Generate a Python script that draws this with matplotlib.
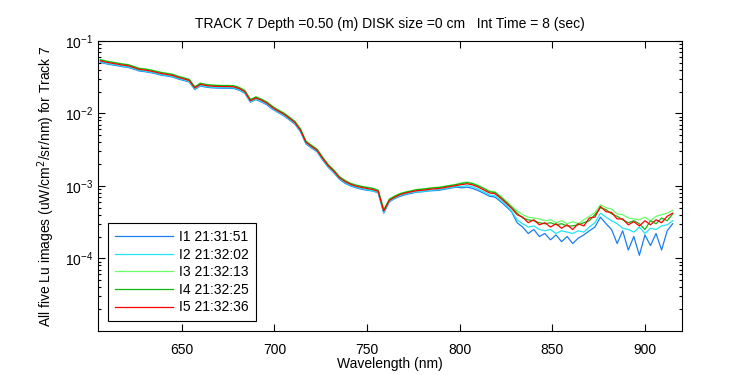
import numpy as np
import matplotlib
matplotlib.use("Agg")
import matplotlib.pyplot as plt
from matplotlib.ticker import LogLocator, NullFormatter

# Wavelength grid (nm), 3 nm sampling
wavelength = [606, 609, 612, 615, 618, 621, 624, 627, 630, 633,
              636, 639, 642, 645, 648, 651, 654, 657, 660, 663,
              666, 669, 672, 675, 678, 681, 684, 687, 690, 693,
              696, 699, 702, 705, 708, 711, 714, 717, 720, 723,
              726, 729, 732, 735, 738, 741, 744, 747, 750, 753,
              756, 759, 762, 765, 768, 771, 774, 777, 780, 783,
              786, 789, 792, 795, 798, 801, 804, 807, 810, 813,
              816, 819, 822, 825, 828, 831, 834, 837, 840, 843,
              846, 849, 852, 855, 858, 861, 864, 867, 870, 873,
              876, 879, 882, 885, 888, 891, 894, 897, 900, 903,
              906, 909, 912, 915]

# Lu values in units of 1e-3 uW/cm^2/sr/nm
lu_i1 = [50.7, 48.5, 47.0, 45.6, 44.2, 43.2, 40.9, 38.5, 37.7, 36.6,
         35.2, 33.7, 32.8, 31.8, 29.9, 28.5, 27.1, 21.4, 23.9, 23.1,
         22.6, 22.4, 22.3, 22.3, 22.1, 20.9, 19.0, 14.3, 15.5, 14.4,
         13.1, 11.4, 10.3, 9.3, 8.17, 7.13, 5.61, 3.80, 3.33, 2.95,
         2.28, 1.81, 1.52, 1.24, 1.09, 1.00, 0.94, 0.90, 0.87, 0.85,
         0.80, 0.42, 0.60, 0.67, 0.72, 0.76, 0.79, 0.82, 0.83, 0.85,
         0.86, 0.87, 0.90, 0.93, 0.96, 0.94, 0.96, 0.92, 0.86, 0.79,
         0.72, 0.70, 0.61, 0.52, 0.44, 0.31, 0.27, 0.22, 0.25, 0.20,
         0.22, 0.18, 0.21, 0.17, 0.20, 0.16, 0.19, 0.21, 0.24, 0.27,
         0.37, 0.30, 0.25, 0.16, 0.24, 0.13, 0.20, 0.11, 0.21, 0.15,
         0.22, 0.13, 0.24, 0.30]

lu_i2 = [51.8, 49.5, 48.0, 46.6, 45.1, 44.1, 41.7, 39.3, 38.5, 37.3,
         35.9, 34.4, 33.5, 32.5, 30.6, 29.1, 27.6, 21.8, 24.4, 23.6,
         23.1, 22.9, 22.8, 22.8, 22.6, 21.3, 19.4, 14.5, 15.8, 14.7,
         13.4, 11.6, 10.5, 9.5, 8.34, 7.28, 5.72, 3.88, 3.40, 3.01,
         2.33, 1.84, 1.55, 1.26, 1.12, 1.02, 0.96, 0.92, 0.89, 0.86,
         0.81, 0.43, 0.61, 0.68, 0.74, 0.78, 0.81, 0.83, 0.84, 0.86,
         0.88, 0.89, 0.92, 0.95, 0.98, 0.98, 1.01, 0.97, 0.90, 0.83,
         0.75, 0.73, 0.64, 0.55, 0.45, 0.34, 0.30, 0.27, 0.28, 0.25,
         0.24, 0.25, 0.22, 0.24, 0.23, 0.22, 0.24, 0.23, 0.27, 0.31,
         0.42, 0.37, 0.33, 0.30, 0.26, 0.25, 0.23, 0.27, 0.22, 0.26,
         0.25, 0.28, 0.29, 0.33]

lu_i3 = [55.5, 53.0, 51.5, 49.9, 48.4, 47.3, 44.7, 42.1, 41.3, 40.0,
         38.5, 36.9, 35.9, 34.8, 32.8, 31.2, 29.6, 23.4, 26.2, 25.3,
         24.8, 24.5, 24.4, 24.4, 24.2, 22.9, 20.8, 15.6, 17.0, 15.8,
         14.4, 12.5, 11.2, 10.2, 8.94, 7.80, 6.14, 4.16, 3.64, 3.22,
         2.50, 1.98, 1.66, 1.35, 1.20, 1.09, 1.03, 0.99, 0.96, 0.93,
         0.87, 0.47, 0.66, 0.73, 0.79, 0.83, 0.86, 0.89, 0.90, 0.93,
         0.95, 0.96, 0.99, 1.02, 1.05, 1.10, 1.13, 1.09, 1.02, 0.93,
         0.85, 0.83, 0.72, 0.62, 0.52, 0.45, 0.40, 0.37, 0.36, 0.35,
         0.33, 0.34, 0.31, 0.33, 0.30, 0.32, 0.30, 0.34, 0.38, 0.43,
         0.55, 0.50, 0.48, 0.41, 0.40, 0.36, 0.35, 0.34, 0.37, 0.33,
         0.38, 0.40, 0.42, 0.46]

lu_i4 = [55.0, 52.5, 51.0, 49.4, 47.9, 46.9, 44.3, 41.7, 40.9, 39.7,
         38.1, 36.6, 35.5, 34.5, 32.4, 30.9, 29.4, 23.2, 26.0, 25.0,
         24.5, 24.3, 24.2, 24.2, 24.0, 22.7, 20.6, 15.5, 16.8, 15.7,
         14.2, 12.4, 11.1, 10.1, 8.86, 7.73, 6.08, 4.12, 3.61, 3.19,
         2.47, 1.96, 1.65, 1.34, 1.18, 1.08, 1.02, 0.98, 0.95, 0.92,
         0.87, 0.46, 0.65, 0.72, 0.78, 0.82, 0.85, 0.89, 0.90, 0.92,
         0.94, 0.95, 0.98, 1.01, 1.04, 1.08, 1.11, 1.07, 1.00, 0.92,
         0.83, 0.81, 0.71, 0.60, 0.51, 0.42, 0.36, 0.34, 0.33, 0.31,
         0.30, 0.31, 0.29, 0.30, 0.28, 0.28, 0.29, 0.31, 0.33, 0.40,
         0.50, 0.47, 0.41, 0.38, 0.34, 0.31, 0.33, 0.30, 0.25, 0.33,
         0.30, 0.36, 0.33, 0.41]

lu_i5 = [53.4, 51.0, 49.5, 48.0, 46.5, 45.5, 43.0, 40.5, 39.7, 38.5,
         37.0, 35.5, 34.5, 33.5, 31.5, 30.0, 28.5, 22.5, 25.2, 24.3,
         23.8, 23.6, 23.5, 23.5, 23.3, 22.0, 20.0, 15.0, 16.3, 15.2,
         13.8, 12.0, 10.8, 9.8, 8.6, 7.5, 5.9, 4.0, 3.5, 3.1,
         2.4, 1.9, 1.6, 1.3, 1.15, 1.05, 0.99, 0.95, 0.92, 0.89,
         0.84, 0.45, 0.63, 0.70, 0.76, 0.80, 0.83, 0.86, 0.87, 0.89,
         0.91, 0.92, 0.95, 0.98, 1.01, 1.04, 1.07, 1.03, 0.96, 0.88,
         0.80, 0.78, 0.68, 0.58, 0.49, 0.40, 0.37, 0.31, 0.34, 0.29,
         0.31, 0.27, 0.30, 0.26, 0.29, 0.25, 0.30, 0.28, 0.36, 0.37,
         0.52, 0.44, 0.43, 0.35, 0.35, 0.29, 0.32, 0.28, 0.33, 0.29,
         0.34, 0.31, 0.38, 0.42]

labels = ["I1 21:31:51", "I2 21:32:02", "I3 21:32:13", "I4 21:32:25", "I5 21:32:36"]
colors = ["#1a7ff0", "#22e4f4", "#66ff66", "#10b810", "#ff0000"]
xticks = [650, 700, 750, 800, 850, 900]

plt.rcParams['font.family'] = ['Liberation Sans', 'DejaVu Sans']
plt.rcParams['font.size'] = 10

fig = plt.figure(figsize=(7.5, 3.75), dpi=100)
ax = fig.add_axes([0.1313, 0.118, 0.778, 0.7727])

wl = np.array(wavelength)
for series, lab, col in zip([lu_i1, lu_i2, lu_i3, lu_i4, lu_i5], labels, colors):
    ax.plot(wl, np.array(series) * 1e-3, color=col, lw=0.9, label=lab)

ax.set_yscale('log')
ax.set_xlim(605, 920)
ax.set_ylim(1e-5, 1e-1)
ax.set_xticks(xticks)
ax.set_yticks([1e-4, 1e-3, 1e-2, 1e-1])
ax.yaxis.set_minor_locator(LogLocator(base=10, subs=np.arange(2, 10), numticks=20))
ax.yaxis.set_minor_formatter(NullFormatter())
ax.tick_params(which='both', direction='in', top=True, right=True)
ax.tick_params(which='major', length=5, width=0.8)
ax.tick_params(which='minor', length=2.5, width=0.8)
ax.tick_params(axis='x', which='major', pad=8.5)
for s in ax.spines.values():
    s.set_linewidth(0.8)

ax.set_title("TRACK 7 Depth =0.50 (m) DISK size =0 cm   Int Time = 8 (sec)", fontsize=10, pad=9.5)
ax.set_xlabel("Wavelength (nm)", labelpad=0)
ax.set_ylabel("All five Lu images (uW/cm$^2$/sr/nm) for Track 7", labelpad=6)

leg = ax.legend(loc='lower left', handlelength=4.2, handletextpad=0.45,
                labelspacing=0.26, borderaxespad=0.68, fancybox=False,
                framealpha=1, edgecolor='black', borderpad=0.5)
leg.get_frame().set_linewidth(0.8)

fig.savefig("out.png", dpi=100, facecolor='white')
